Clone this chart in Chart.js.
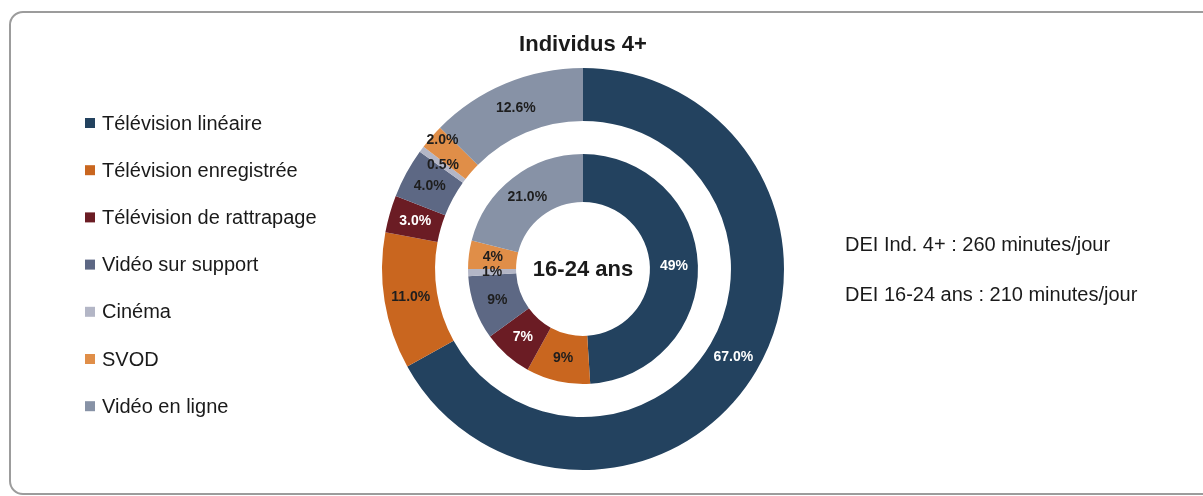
<!DOCTYPE html>
<html>
<head>
<meta charset="utf-8">
<script src="https://cdn.jsdelivr.net/npm/chart.js@4/dist/chart.umd.min.js"></script>
<style>
    html, body { margin: 0; padding: 0; background: #fff; overflow: hidden; }
    #frame {
        position: absolute; left: 9px; top: 11px; width: 1210px; height: 480px;
        border: 2px solid #9c9c9c; border-radius: 14px;
    }
    #chart { position: absolute; left: 0; top: 0; }
</style>
</head>
<body>
<div id="frame"></div>
<canvas id="chart" width="1203" height="496"></canvas>
<script>
// categories
const categories = ['Télévision linéaire', 'Télévision enregistrée', 'Télévision de rattrapage',
    'Vidéo sur support', 'Cinéma', 'SVOD', 'Vidéo en ligne'];
// outer ring = Individus 4+, inner ring = 16-24 ans
const valuesInd4 = [67.0, 11.0, 3.0, 4.0, 0.5, 2.0, 12.6];
const values1624 = [49, 9, 7, 9, 1, 4, 21];
const labelsInd4 = ['67.0%', '11.0%', '3.0%', '4.0%', '0.5%', '2.0%', '12.6%'];
const labels1624 = ['49%', '9%', '7%', '9%', '1%', '4%', '21.0%'];
const colors = ['#23425f', '#c9661f', '#6b1c24', '#5d6884', '#b3b6c6', '#e08e48', '#8792a6'];
const whiteText = ['#23425f', '#6b1c24'];
const infoLines = ['DEI Ind. 4+ : 260 minutes/jour', 'DEI 16-24 ans : 210 minutes/jour'];

const FONT = '"Liberation Sans", Arial, sans-serif';

// petit decalage pour le label du SVOD (anneau exterieur)
const nudges = { '0-5': [-9, -14] };

const labelPlugin = {
    id: 'sliceLabels',
    afterDatasetsDraw(chart) {
        const ctx = chart.ctx;
        ctx.save();
        ctx.font = 'bold 14px ' + FONT;
        ctx.textAlign = 'center';
        ctx.textBaseline = 'middle';
        [[0, labelsInd4], [2, labels1624]].forEach(([di, texts]) => {
            chart.getDatasetMeta(di).data.forEach((arc, i) => {
                const p = arc.tooltipPosition();
                const n = nudges[di + '-' + i] || [0, 0];
                ctx.fillStyle = whiteText.includes(colors[i]) ? '#ffffff' : '#1e1e1e';
                ctx.fillText(texts[i], p.x + n[0], p.y + n[1]);
            });
        });
        ctx.restore();
    },
    afterDraw(chart) {
        const ctx = chart.ctx;
        const area = chart.chartArea;
        const cx = (area.left + area.right) / 2;
        ctx.save();
        ctx.fillStyle = '#1a1a1a';
        ctx.textAlign = 'center';
        ctx.textBaseline = 'middle';
        ctx.font = 'bold 22px ' + FONT;
        ctx.fillText('Individus 4+', cx, 45);
        ctx.fillText('16-24 ans', cx, 270);

        // legende
        ctx.textAlign = 'left';
        ctx.font = '20px ' + FONT;
        categories.forEach((c, i) => {
            const y = 123 + i * 47.2;
            ctx.fillStyle = colors[i];
            ctx.fillRect(85, y - 5, 10, 10);
            ctx.fillStyle = '#1a1a1a';
            ctx.fillText(c, 102, y + 1);
        });

        infoLines.forEach((t, i) => {
            ctx.fillText(t, 845, 245 + i * 50);
        });
        ctx.restore();
    }
};

new Chart(document.getElementById('chart'), {
    type: 'doughnut',
    data: {
        labels: categories,
        datasets: [
            { data: valuesInd4, backgroundColor: colors, borderWidth: 0, weight: 53 },
            { data: [1], backgroundColor: 'rgba(0,0,0,0)', borderWidth: 0, weight: 33 },
            { data: values1624, backgroundColor: colors, borderWidth: 0, weight: 48 }
        ]
    },
    options: {
        responsive: false,
        animation: false,
        cutout: '33.3%',
        layout: { padding: { left: 382, right: 419, top: 68, bottom: 26 } },
        plugins: {
            legend: { display: false },
            tooltip: { enabled: false }
        }
    },
    plugins: [labelPlugin]
});
</script>
</body>
</html>
